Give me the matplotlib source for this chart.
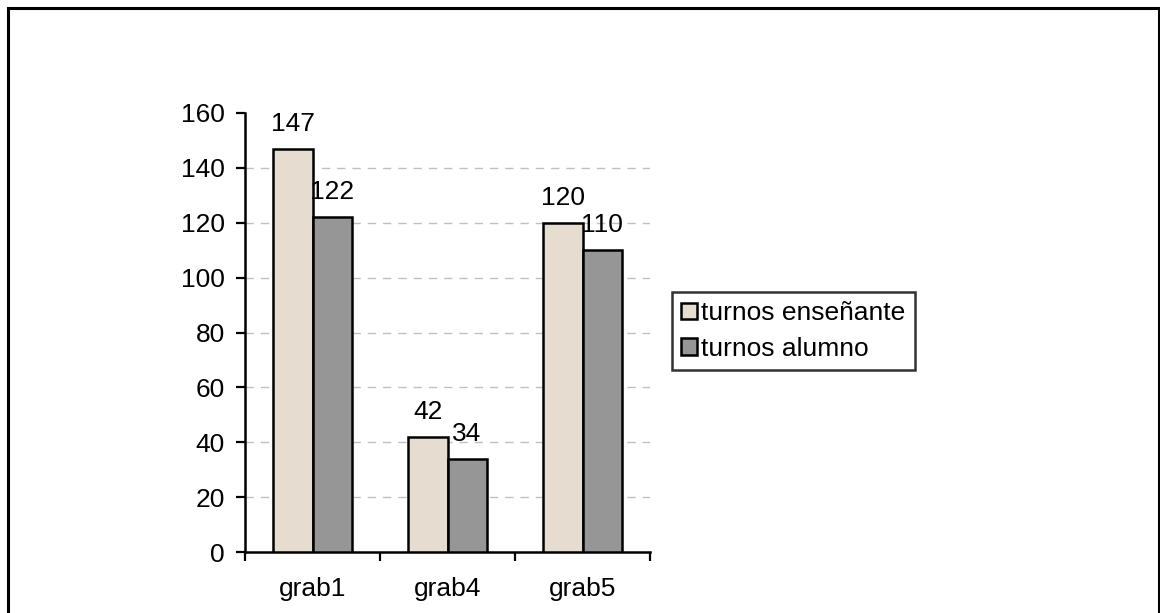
import matplotlib.pyplot as plt
import matplotlib.patches as mpatches
import numpy as np

plt.rcParams['font.family'] = ['Liberation Sans', 'DejaVu Sans']

categories = ["grab1", "grab4", "grab5"]
turnos_ensenante = [147, 42, 120]
turnos_alumno = [122, 34, 110]
series_labels = ["turnos enseñante", "turnos alumno"]

W, H = 1160, 613
FS = 19
fig = plt.figure(figsize=(W / 100, H / 100), dpi=100)

# outer frame around the whole chart area
frame = mpatches.Rectangle((8 / W, -0.05), (1159 - 8) / W, 1.05 - 8 / H,
                           transform=fig.transFigure, fill=False,
                           edgecolor="black", linewidth=2.2, clip_on=False)
fig.patches.append(frame)

ax = fig.add_axes([245 / W, 1 - 552 / H, (650 - 245) / W, (552 - 113) / H])

x = np.arange(len(categories))
w = 0.289
b1 = ax.bar(x - w / 2, turnos_ensenante, w, color="#e6ddd0", edgecolor="black",
            linewidth=1.8, label=series_labels[0], zorder=3)
b2 = ax.bar(x + w / 2, turnos_alumno, w, color="#969696", edgecolor="black",
            linewidth=1.8, label=series_labels[1], zorder=3)

for bars, vals in ((b1, turnos_ensenante), (b2, turnos_alumno)):
    for r, v in zip(bars, vals):
        ax.annotate(str(v), (r.get_x() + r.get_width() / 2, v),
                    xytext=(0, 13), textcoords="offset points",
                    ha="center", va="baseline", fontsize=FS, zorder=4)

ax.set_xlim(-0.5, len(categories) - 0.5)
ax.set_ylim(0, 160)
ax.set_yticks(np.arange(0, 161, 20))
ax.set_xticks(x)
ax.set_xticklabels(categories)
ax.set_xticks(np.arange(-0.5, len(categories), 1.0), minor=True)

ax.tick_params(axis="y", which="major", length=6.5, width=1.6, pad=8, labelsize=FS)
ax.tick_params(axis="x", which="major", length=0, pad=18, labelsize=FS)
ax.tick_params(axis="x", which="minor", length=6.5, width=1.6)

for g in range(20, 160, 20):
    ax.axhline(g, color="#c0c0c0", linewidth=1.0, linestyle=(0, (6, 5)), zorder=1)

ax.spines["top"].set_visible(False)
ax.spines["right"].set_visible(False)
ax.spines["left"].set_linewidth(1.8)
ax.spines["bottom"].set_linewidth(1.8)

leg = fig.legend(handles=[b1, b2], labels=series_labels,
                 loc="upper left", bbox_to_anchor=(672 / W, 1 - 292 / H),
                 fontsize=FS, frameon=True, fancybox=False,
                 handlelength=0.6, handleheight=0.6, handletextpad=0.15,
                 borderpad=0.35, labelspacing=0.45, borderaxespad=0)
leg.get_frame().set_edgecolor("black")
leg.get_frame().set_linewidth(1.8)

fig.savefig("out.png", dpi=100)
